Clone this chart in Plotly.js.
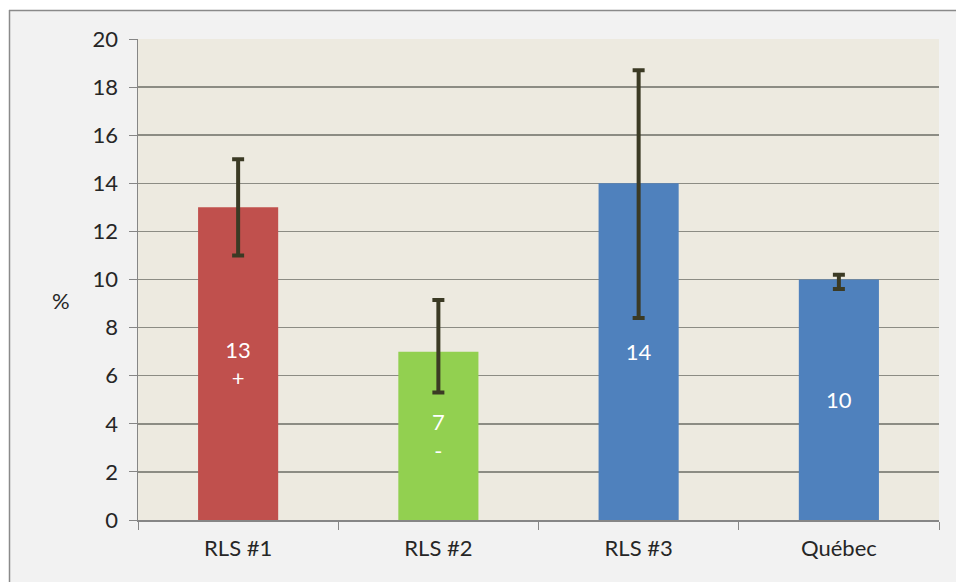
<!DOCTYPE html>
<html>
<head>
<meta charset="utf-8">
<script src="https://cdn.plot.ly/plotly-3.0.1.min.js"></script>
<style>html,body{margin:0;padding:0;background:#fff;}#chart{width:956px;height:582px;}</style>
</head>
<body>
<div id="chart"></div>
<script>
const categories = ["RLS #1", "RLS #2", "RLS #3", "Québec"];
const values = [13, 7, 14, 10];
const ciHigh = [15, 9.15, 18.7, 10.2];
const ciLow = [11, 5.3, 8.4, 9.6];
const barLabels = ["13<br>+", "7<br>-", "14", "10"];
const barColors = ["#c0504d", "#92d050", "#4f81bd", "#4f81bd"];
const yTicks = [0, 2, 4, 6, 8, 10, 12, 14, 16, 18, 20];
const yLabel = "%";

const errPlus = values.map((v, i) => ciHigh[i] - v);
const errMinus = values.map((v, i) => v - ciLow[i]);

const W = 956, H = 582;
const m = {l: 138, r: 17, t: 39, b: 62};
const pw = W - m.l - m.r, ph = H - m.t - m.b;
const px = x => (x - m.l) / pw;
const py = y => (H - m.b - y) / ph;

const trace = {
  type: "bar",
  x: categories,
  y: values,
  text: barLabels,
  textposition: "inside",
  insidetextanchor: "middle",
  textangle: 0,
  textfont: {family: "Lato, 'Open Sans', sans-serif", size: 22, color: "#ffffff"},
  marker: {color: barColors, line: {width: 0}},
  error_y: {
    type: "data", symmetric: false,
    array: errPlus, arrayminus: errMinus,
    color: "#3b3a24", thickness: 4, width: 6
  },
  hoverinfo: "none"
};

const layout = {
  width: W, height: H,
  margin: m,
  paper_bgcolor: "#f2f2f2",
  plot_bgcolor: "#edeae0",
  showlegend: false,
  bargap: 0.6,
  font: {family: "Lato, 'Open Sans', sans-serif", color: "#262626"},
  xaxis: {
    type: "category",
    tickson: "boundaries",
    ticks: "outside", ticklen: 8, tickcolor: "#868686", tickwidth: 1,
    showline: true, linecolor: "#868686", linewidth: 1.5,
    showgrid: false, zeroline: false,
    tickfont: {size: 22, color: "#262626"},
    ticklabelstandoff: 8,
    fixedrange: true
  },
  yaxis: {
    range: [0, 20],
    tickvals: yTicks,
    ticks: "outside", ticklen: 8, tickcolor: "#868686", tickwidth: 1,
    showline: true, linecolor: "#868686", linewidth: 1.5,
    showgrid: true, gridcolor: "#8c8c84", gridwidth: 1.5,
    zeroline: false,
    tickfont: {size: 22, color: "#262626"},
    ticklabelstandoff: 6,
    fixedrange: true
  },
  annotations: [{
    xref: "paper", yref: "paper",
    x: px(61), y: py(301),
    text: yLabel, showarrow: false,
    font: {size: 22, color: "#262626"},
    xanchor: "center", yanchor: "middle"
  }],
  shapes: [
    {type: "rect", xref: "paper", yref: "paper", x0: px(0), x1: px(W), y0: py(0), y1: py(10), fillcolor: "#ffffff", line: {width: 0}},
    {type: "rect", xref: "paper", yref: "paper", x0: px(0), x1: px(9), y0: py(0), y1: py(H), fillcolor: "#ffffff", line: {width: 0}},
    {type: "line", xref: "paper", yref: "paper", x0: px(9), x1: px(W), y0: py(10.5), y1: py(10.5), line: {color: "#8a8a8a", width: 1.5}},
    {type: "line", xref: "paper", yref: "paper", x0: px(9.5), x1: px(9.5), y0: py(10), y1: py(H), line: {color: "#8a8a8a", width: 1.5}}
  ]
};

Plotly.newPlot("chart", [trace], layout, {displayModeBar: false, staticPlot: true});
</script>
</body>
</html>
